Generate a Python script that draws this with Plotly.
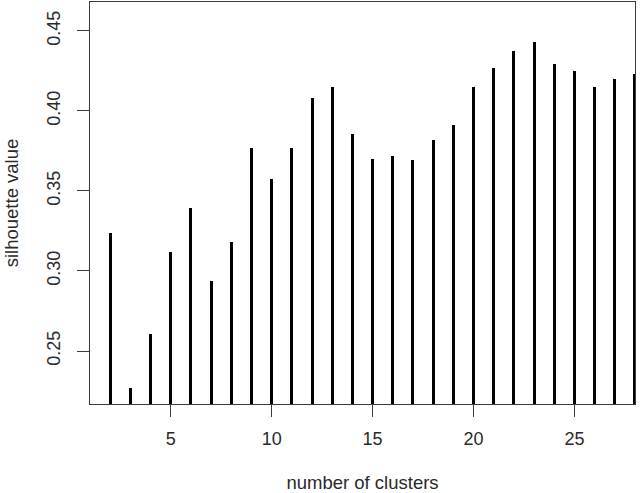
import plotly.graph_objects as go

clusters = list(range(2, 29))
silhouette = [0.3239, 0.2271, 0.2604, 0.3121, 0.3396, 0.2938, 0.3183, 0.3767,
              0.3575, 0.3770, 0.4079, 0.4146, 0.3854, 0.3700, 0.3721, 0.3696,
              0.3817, 0.3913, 0.4146, 0.4269, 0.4377, 0.4433, 0.4292, 0.4250,
              0.4146, 0.4200, 0.4229]
x_ticks = [5, 10, 15, 20, 25]
y_ticks = [0.25, 0.30, 0.35, 0.40, 0.45]
y_tick_labels = ["0.25", "0.30", "0.35", "0.40", "0.45"]

FONT = "Liberation Sans, Arial, sans-serif"
AXCOL = "#3a3a3a"

fig = go.Figure()
fig.add_trace(go.Bar(
    x=clusters, y=silhouette, base=0, width=0.15,
    marker=dict(color="black", line=dict(width=0)),
    showlegend=False, cliponaxis=True,
))

fig.update_layout(
    width=642, height=493,
    margin=dict(l=90, r=7, t=2, b=89),
    paper_bgcolor="white", plot_bgcolor="white",
    font=dict(family=FONT, size=18, color="#2a2a2a"),
    bargap=0,
)
fig.update_xaxes(
    range=[1, 28], tickvals=x_ticks, ticktext=[str(v) for v in x_ticks],
    showgrid=False, zeroline=False, automargin=False,
    showline=True, mirror=True, linecolor=AXCOL, linewidth=1,
    ticks="outside", ticklen=12, tickcolor=AXCOL, tickwidth=1,
    ticklabelstandoff=6,
    title=dict(text="number of clusters", standoff=36, font=dict(size=18.5)),
)
fig.update_yaxes(
    range=[0.2169, 0.468], tickvals=y_ticks, ticktext=y_tick_labels,
    tickangle=-90,
    showgrid=False, zeroline=False, automargin=False,
    showline=True, mirror=True, linecolor=AXCOL, linewidth=1,
    ticks="outside", ticklen=12, tickcolor=AXCOL, tickwidth=1,
    ticklabelstandoff=10,
    title=dict(text="silhouette value", standoff=20, font=dict(size=18.5)),
)

fig.write_html("out.html",
               config={"displayModeBar": False},
               post_script="document.body.style.margin='0';document.body.style.padding='0';")
